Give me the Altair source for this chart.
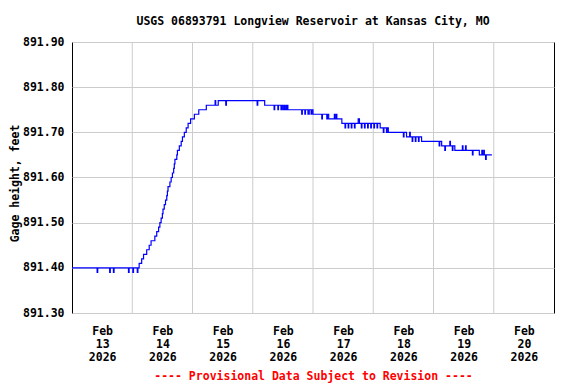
import altair as alt
import pandas as pd

# Change points (hours after 2026-02-13 00:00) and gage height (ft), step-after
hours = [
    0.0, 10.0, 10.25, 15.0, 15.25, 16.5, 16.75, 22.5, 22.75, 24.25, 24.5, 26.0, 26.25,
    26.75, 27.75, 28.5, 29.75, 30.75, 31.5, 33.0, 33.75, 34.5, 35.0, 35.5, 36.0, 36.25,
    36.75, 37.25, 37.75, 38.0, 38.25, 39.0, 39.5, 40.0, 40.5, 40.75, 41.0, 41.75, 42.0,
    42.75, 43.5, 44.0, 44.75, 45.5, 46.25, 47.25, 48.75, 50.5, 53.5, 57.0, 57.25, 58.25,
    61.25, 61.5, 73.75, 74.0, 76.75, 80.5, 80.75, 82.0, 82.25, 83.25, 83.5, 84.0, 84.5,
    84.75, 85.25, 85.5, 85.75, 86.0, 91.5, 91.75, 92.75, 93.0, 94.0, 94.5, 95.25, 95.5,
    96.0, 99.5, 99.75, 101.5, 101.75, 102.25, 104.5, 104.75, 105.25, 105.5, 107.5, 108.75,
    109.0, 110.0, 110.25, 111.25, 111.5, 112.5, 112.75, 114.0, 114.5, 115.25, 115.5, 116.5,
    116.75, 117.75, 118.0, 119.0, 119.25, 120.25, 120.5, 121.5, 121.75, 122.75, 124.0,
    124.25, 125.25, 125.5, 126.0, 132.0, 132.25, 133.25, 134.5, 134.75, 135.5, 135.75,
    136.75, 137.0, 138.0, 138.25, 139.25, 146.25, 146.5, 147.25, 148.5, 148.75, 150.5,
    150.75, 151.5, 151.75, 152.5, 155.5, 155.75, 156.75, 157.0, 159.5, 159.75, 162.25,
    163.25, 163.5, 164.0, 164.25, 164.75, 165.0, 167.25,
]
stage = [
    891.40, 891.39, 891.40, 891.39, 891.40, 891.39, 891.40, 891.39, 891.40, 891.39, 891.40, 891.39, 891.40,
    891.41, 891.42, 891.43, 891.44, 891.45, 891.46, 891.47, 891.48, 891.49, 891.50, 891.51, 891.52, 891.53,
    891.54, 891.55, 891.56, 891.57, 891.58, 891.59, 891.60, 891.61, 891.62, 891.63, 891.64, 891.65, 891.66,
    891.67, 891.68, 891.69, 891.70, 891.71, 891.72, 891.73, 891.74, 891.75, 891.76, 891.77, 891.76, 891.77,
    891.76, 891.77, 891.76, 891.77, 891.76, 891.75, 891.76, 891.75, 891.76, 891.75, 891.76, 891.75, 891.76,
    891.75, 891.76, 891.75, 891.76, 891.75, 891.74, 891.75, 891.74, 891.75, 891.74, 891.75, 891.74, 891.75,
    891.74, 891.73, 891.74, 891.73, 891.74, 891.73, 891.74, 891.73, 891.74, 891.73, 891.72, 891.71,
    891.72, 891.71, 891.72, 891.71, 891.72, 891.71, 891.72, 891.73, 891.72, 891.71, 891.72, 891.71,
    891.72, 891.71, 891.72, 891.71, 891.72, 891.71, 891.72, 891.71, 891.72, 891.71, 891.70,
    891.71, 891.70, 891.71, 891.70, 891.69, 891.70, 891.69, 891.70, 891.69, 891.68, 891.69,
    891.68, 891.69, 891.68, 891.69, 891.68, 891.67, 891.68, 891.67, 891.66, 891.67, 891.68,
    891.67, 891.66, 891.67, 891.66, 891.67, 891.66, 891.67, 891.66, 891.65, 891.66, 891.65,
    891.66, 891.65, 891.66, 891.65, 891.64, 891.65, 891.65,
]

grid_days = [14, 15, 16, 17, 18, 19, 20]
label_days = [13, 14, 15, 16, 17, 18, 19, 20]
y_ticks = [891.30, 891.40, 891.50, 891.60, 891.70, 891.80, 891.90]

base = pd.Timestamp("2026-02-13 00:00")
df = pd.DataFrame({
    "time": [(base + pd.Timedelta(hours=h)).strftime("%Y-%m-%dT%H:%M:%S") for h in hours],
    "stage": stage,
})
grid_df = pd.DataFrame({"time": [f"2026-02-{d:02d}T00:00:00" for d in grid_days]})

FONT = "DejaVu Sans Mono"
x_scale = alt.Scale(domain=[alt.DateTime(year=2026, month=2, date=13),
                            alt.DateTime(year=2026, month=2, date=21)])
y_scale = alt.Scale(domain=[891.30, 891.90], nice=False, zero=False)

grid = alt.Chart(grid_df).mark_rule(color="#cccccc", strokeWidth=1).encode(
    x=alt.X("time:T", scale=x_scale)
)

line = alt.Chart(df).mark_line(color="#0000ff", strokeWidth=1.2, interpolate="step-after").encode(
    x=alt.X("time:T", scale=x_scale,
            axis=alt.Axis(
                values=[alt.DateTime(year=2026, month=2, date=d, hours=12) for d in label_days],
                labelExpr="[timeFormat(datum.value, '%b'), timeFormat(datum.value, '%d'), timeFormat(datum.value, '%Y')]",
                grid=False, ticks=False, domain=False, labelPadding=12,
                labelLineHeight=13, labelBaseline="top",
                title="---- Provisional Data Subject to Revision ----",
                titleColor="#ff0000", titlePadding=8,
            )),
    y=alt.Y("stage:Q", scale=y_scale,
            axis=alt.Axis(values=y_ticks, format=".2f", grid=True, gridColor="#cccccc",
                          ticks=False, tickSize=0, domain=False, labelPadding=8,
                          title="Gage height, feet", titlePadding=2, titleY=141)),
)

chart = alt.layer(grid, line).properties(
    width=482, height=271,
    title=alt.TitleParams("USGS 06893791 Longview Reservoir at Kansas City, MO",
                          font=FONT, fontSize=11.5, fontWeight="bold", color="black",
                          anchor="middle", offset=9),
    padding={"left": 64, "top": 34, "right": 14, "bottom": 71},
    autosize=alt.AutoSizeParams(type="none"),
).configure_view(
    stroke="black", strokeWidth=1
).configure_axis(
    labelFont=FONT, labelFontSize=11.5, labelFontWeight="bold", labelColor="black",
    titleFont=FONT, titleFontSize=11.5, titleFontWeight="bold", titleColor="black",
)

chart.save("out.html", embed_options={"renderer": "svg", "actions": False})
